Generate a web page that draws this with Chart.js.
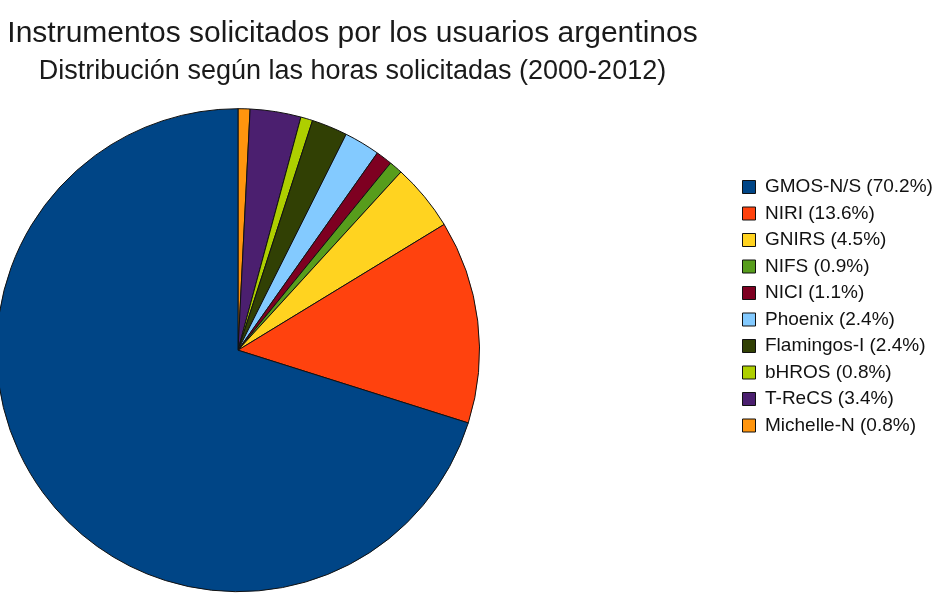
<!DOCTYPE html>
<html>
<head>
<meta charset="utf-8">
<script src="https://cdn.jsdelivr.net/npm/chart.js@4"></script>
<style>
  html, body { margin: 0; padding: 0; background: #fff; }
  #wrap { width: 947px; height: 603px; }
</style>
</head>
<body>
<div id="wrap"><canvas id="chart-canvas"></canvas></div>
<script>
// Instruments requested by Argentine users, share of hours (legend order)
const instruments = ['GMOS-N/S', 'NIRI', 'GNIRS', 'NIFS', 'NICI', 'Phoenix', 'Flamingos-I', 'bHROS', 'T-ReCS', 'Michelle-N'];
const shares = [70.2, 13.6, 4.5, 0.9, 1.1, 2.4, 2.4, 0.8, 3.4, 0.8];
const colors = ['#004586', '#ff420e', '#ffd320', '#579d1c', '#7e0021', '#83caff', '#314004', '#aecf00', '#4b1f6f', '#ff950e'];

const legendLabels = instruments.map((name, i) => `${name} (${shares[i]}%)`);

// The original pie runs counter-clockwise from 12 o'clock, so feed it reversed
// and flip the legend back to the original order
const rev = (arr) => [...arr].reverse();

// Pie sits left of centre, titles are centred over the left ~3/4 of the image
const PIE_CX = 238;
const PIE_R = 242;
const TITLE_RIGHT = 705;
const LEGEND_LEFT = 735;
const LEGEND_TOP = 170;

const placement = {
  id: 'placement',
  afterLayout(chart) {
    chart.boxes.forEach((box) => {
      if (box.options && box.options.position === 'top' && 'text' in box.options) {
        box.left = 0;
        box.right = TITLE_RIGHT;
      }
      if (box === chart.legend) {
        const w = box.right - box.left;
        const h = box.bottom - box.top;
        box.left = LEGEND_LEFT;
        box.right = LEGEND_LEFT + w;
        box.top = LEGEND_TOP;
        box.bottom = LEGEND_TOP + h;
      }
    });
    const area = chart.chartArea;
    const cy = (area.top + area.bottom) / 2 + 1;
    area.left = PIE_CX - PIE_R;
    area.right = PIE_CX + PIE_R;
    area.top = cy - PIE_R;
    area.bottom = cy + PIE_R;
    area.width = area.right - area.left;
    area.height = area.bottom - area.top;
  },
};

const ctx = document.getElementById('chart-canvas').getContext('2d');
new Chart(ctx, {
  type: 'pie',
  data: {
    labels: rev(legendLabels),
    datasets: [
      {
        data: rev(shares),
        backgroundColor: rev(colors),
        borderColor: '#111',
        borderWidth: 1,
      },
    ],
  },
  options: {
    responsive: true,
    maintainAspectRatio: false,
    animation: false,
    layout: { padding: 0 },
    plugins: {
      title: {
        display: true,
        text: 'Instrumentos solicitados por los usuarios argentinos',
        color: '#1a1a1a',
        font: { family: '"Liberation Sans", sans-serif', size: 30, weight: 'normal' },
        padding: { top: 16, bottom: 3 },
      },
      subtitle: {
        display: true,
        text: 'Distribución según las horas solicitadas (2000-2012)',
        color: '#1a1a1a',
        font: { family: '"Liberation Sans", sans-serif', size: 27, weight: 'normal' },
        padding: { top: 0, bottom: 8 },
      },
      legend: {
        position: 'right',
        align: 'start',
        reverse: true,
        labels: {
          color: '#111',
          boxWidth: 13,
          boxHeight: 13,
          padding: 7.5,
          font: { family: '"Liberation Sans", sans-serif', size: 19 },
        },
      },
      tooltip: { enabled: false },
    },
  },
  plugins: [placement],
});
</script>
</body>
</html>
